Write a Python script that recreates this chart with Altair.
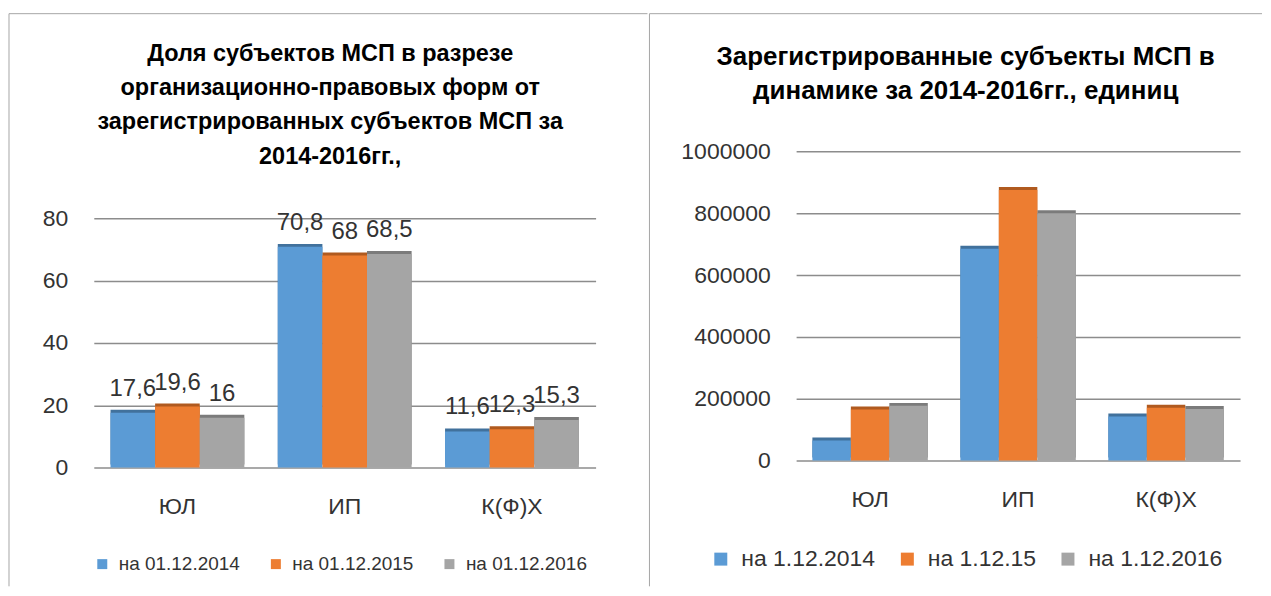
import altair as alt
import pandas as pd

categories = ["ЮЛ", "ИП", "К(Ф)Х"]

left_series = ["на 01.12.2014", "на 01.12.2015", "на 01.12.2016"]
left_2014 = [17.6, 70.8, 11.6]
left_2015 = [19.6, 68.0, 12.3]
left_2016 = [16.0, 68.5, 15.3]
left_ticks = [0, 20, 40, 60, 80]
left_title = ["Доля субъектов МСП в разрезе",
              "организационно-правовых форм от",
              "зарегистрированных субъектов МСП за",
              "2014-2016гг.,"]

right_series = ["на 1.12.2014", "на 1.12.15", "на 1.12.2016"]
right_2014 = [65000, 685000, 143000]
right_2015 = [165000, 875000, 171000]
right_2016 = [177000, 800000, 167000]
right_ticks = [0, 200000, 400000, 600000, 800000, 1000000]
right_title = ["Зарегистрированные субъекты МСП в",
               "динамике за 2014-2016гг., единиц"]

colors = ["#5B9BD5", "#ED7D31", "#A5A5A5"]
dark_colors = ["#41719C", "#B05A1F", "#7B7B7B"]

FONT = "Liberation Sans"
TXT = "#333333"
GRID = "#8C8C8C"


def make_df(series, cols):
    rows = []
    for s, vals in zip(series, cols):
        for c, v in zip(categories, vals):
            rows.append({"cat": c, "series": s, "value": v,
                         "label": f"{v:g}".replace(".", ",")})
    return pd.DataFrame(rows)


def panel(df, series, ticks, y_max, width, height, pad_in, pad_out, fmt,
          title_lines, title_size, title_x, title_y, legend, border, with_labels):
    x = alt.X("cat:N", sort=categories,
              scale=alt.Scale(paddingInner=pad_in, paddingOuter=pad_out),
              axis=alt.Axis(title=None, labelAngle=0, labelFontSize=23, labelPadding=28,
                            domain=False, ticks=False, grid=False, labelColor=TXT,
                            labelFont=FONT))
    y = alt.Y("value:Q", scale=alt.Scale(domain=[0, y_max], nice=False, zero=True),
              axis=alt.Axis(title=None, values=ticks, format=fmt, labelFontSize=23,
                            labelPadding=26, domain=False, ticks=False, gridColor=GRID,
                            gridWidth=1.5, labelColor=TXT, labelFont=FONT))
    xo = alt.XOffset("series:N", sort=series, scale=alt.Scale(domain=series))
    base = alt.Chart(df)
    shadow = base.mark_bar(yOffset=-3).encode(
        x=x, y=y, xOffset=xo,
        color=alt.Color("series:N", scale=alt.Scale(domain=series, range=dark_colors),
                        legend=None))
    bars = base.mark_bar().encode(
        x=x, y=y, xOffset=xo,
        color=alt.Color("series:N", scale=alt.Scale(domain=series, range=colors),
                        legend=legend))
    layers = [shadow, bars]
    if with_labels:
        labels = base.mark_text(baseline="bottom", dy=-12, fontSize=24, color=TXT,
                                font=FONT).encode(x=x, y=y, xOffset=xo, text="label:N")
        layers.append(labels)
    tdf = pd.DataFrame({"t": ["\n".join(title_lines)]})
    title = alt.Chart(tdf).mark_text(fontSize=title_size, fontWeight="bold", font=FONT,
                                     lineBreak="\n", lineHeight=34.5, baseline="middle",
                                     align="center", color="#000000").encode(
        x=alt.value(title_x), y=alt.value(title_y), text="t:N")
    layers.append(title)
    one = pd.DataFrame({"k": [0]})
    bx, btop, bright, bbottom = border
    top_rule = alt.Chart(one).mark_rule(color="#A6A6A6", strokeWidth=1).encode(
        x=alt.value(bx), x2=alt.value(bright), y=alt.value(btop))
    side_rule = alt.Chart(one).mark_rule(color="#A6A6A6", strokeWidth=1).encode(
        x=alt.value(bx), y=alt.value(btop), y2=alt.value(bbottom))
    layers += [top_rule, side_rule]
    return alt.layer(*layers).resolve_scale(color="independent").properties(
        width=width, height=height)


left_legend = alt.Legend(orient="none", legendX=-1, legendY=404, direction="horizontal",
                         title=None, symbolType="square", symbolSize=100,
                         symbolStrokeWidth=0, labelFontSize=19, labelFont=FONT,
                         labelOffset=7, columnPadding=26, labelColor=TXT, padding=0,
                         labelLimit=300)
right_legend = alt.Legend(orient="none", legendX=-87, legendY=397, direction="horizontal",
                          title=None, symbolType="square", symbolSize=169,
                          symbolStrokeWidth=0, labelFontSize=23, labelFont=FONT,
                          labelOffset=9, columnPadding=20, labelColor=TXT, padding=0,
                          labelLimit=300)

# both plot areas share the same top (y=150 on the page); the left one reaches
# further up so that its 80 line lands where the reference shows it
left = panel(make_df(left_series, [left_2014, left_2015, left_2016]), left_series,
             left_ticks, 101.44, 503, 317, 0.2, 0.1, "d",
             left_title, 23.5, 237, -98, left_legend, (-85, -138, 555, 436), True)
right = panel(make_df(right_series, [right_2014, right_2015, right_2016]), right_series,
              right_ticks, 1000000, 445, 310, 0.22, 0.11, "d",
              right_title, 26, 170, -95, right_legend, (-147, -138, 467, 436), False)

chart = alt.hconcat(left, right, spacing=0).resolve_scale(
    color="independent", xOffset="independent", x="independent", y="independent"
).properties(
    padding={"top": 4, "left": 0, "right": 0, "bottom": 0},
    background="white",
).configure_view(strokeWidth=0)

chart.save("out.html", embed_options={"renderer": "svg", "actions": False})
